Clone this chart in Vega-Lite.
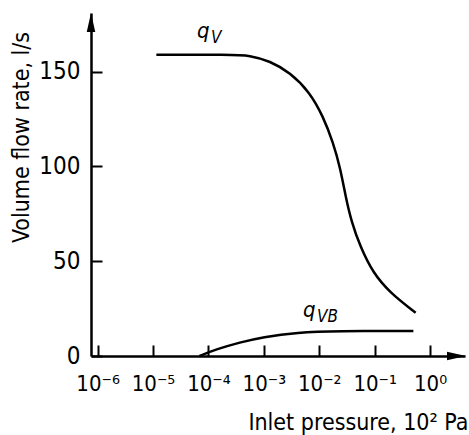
{
  "$schema": "https://vega.github.io/schema/vega-lite/v6.json",
  "width": 374,
  "height": 343,
  "autosize": "none",
  "padding": {"left": 91, "top": 13, "right": 4, "bottom": 79},
  "background": "white",
  "config": {
    "view": {"stroke": null},
    "font": "DejaVu Sans Condensed",
    "axis": {"grid": false, "domainColor": "black", "domainWidth": 2.5, "tickColor": "black", "tickWidth": 2, "labelColor": "black", "titleColor": "black", "labelFont": "DejaVu Sans Condensed", "titleFont": "DejaVu Sans Condensed", "labelFontSize": 24, "titleFontSize": 23, "titleFontWeight": "normal"}
  },
  "datasets": {
    "curves": [
      {"series": "qV", "p": 1.15e-5, "q": 159},
      {"series": "qV", "p": 2.5e-4, "q": 159},
      {"series": "qV", "p": 5.6e-4, "q": 158.7},
      {"series": "qV", "p": 1.29e-3, "q": 155.6},
      {"series": "qV", "p": 2.95e-3, "q": 149.7},
      {"series": "qV", "p": 6.76e-3, "q": 139.2},
      {"series": "qV", "p": 1.17e-2, "q": 126.5},
      {"series": "qV", "p": 1.78e-2, "q": 112.7},
      {"series": "qV", "p": 2.4e-2, "q": 99},
      {"series": "qV", "p": 3.0e-2, "q": 84},
      {"series": "qV", "p": 3.8e-2, "q": 71},
      {"series": "qV", "p": 5.5e-2, "q": 57.7},
      {"series": "qV", "p": 9.3e-2, "q": 43.9},
      {"series": "qV", "p": 0.19, "q": 33.3},
      {"series": "qV", "p": 0.55, "q": 22.8},
      {"series": "qVB", "p": 6.9e-5, "q": 0},
      {"series": "qVB", "p": 1.4e-4, "q": 3.6},
      {"series": "qVB", "p": 3.7e-4, "q": 7.2},
      {"series": "qVB", "p": 9.5e-4, "q": 10.0},
      {"series": "qVB", "p": 3.98e-3, "q": 12.5},
      {"series": "qVB", "p": 2.1e-2, "q": 13.2},
      {"series": "qVB", "p": 0.5, "q": 13.2}
    ],
    "labels": [
      {"p": 6.2e-5, "q": 167.8, "main": "q", "sub": "V"},
      {"p": 5.1e-3, "q": 20.6, "main": "q", "sub": "VB"}
    ],
    "arrows": [
      {"p": 7.6e-7, "q": 176, "dir": "up"},
      {"p": 3.0, "q": 0, "dir": "right"}
    ]
  },
  "layer": [
    {
      "data": {"name": "curves"},
      "mark": {"type": "line", "color": "black", "strokeWidth": 2.5, "interpolate": "basis", "clip": false},
      "encoding": {
        "x": {"field": "p", "type": "quantitative", "scale": {"type": "log", "domain": [7.6e-7, 4.27], "nice": false},
          "axis": {"values": [1e-6, 1e-5, 1e-4, 1e-3, 1e-2, 1e-1, 1], "tickSize": -11, "labelPadding": 28, "labelFontSize": 22,
            "labelExpr": "'10' + ['⁻⁶','⁻⁵','⁻⁴','⁻³','⁻²','⁻¹','⁰'][round(log(datum.value)/LN10)+6]",
            "title": "Inlet pressure, 10² Pa", "titleX": 377, "titleY": 66, "titleAlign": "right", "titleBaseline": "middle", "titleAnchor": null}},
        "y": {"field": "q", "type": "quantitative", "scale": {"domain": [0, 181], "nice": false},
          "axis": {"values": [0, 50, 100, 150], "tickSize": -11, "labelPadding": 22,
            "title": "Volume flow rate, l/s", "titleX": -70, "titleY": 124, "titleAngle": -90, "titleAlign": "center", "titleBaseline": "middle", "titleAnchor": null}},
        "detail": {"field": "series"}
      }
    },
    {
      "data": {"name": "labels"},
      "mark": {"type": "text", "align": "left", "baseline": "alphabetic", "fontStyle": "italic", "fontSize": 22, "font": "DejaVu Sans Condensed", "color": "black"},
      "encoding": {
        "x": {"field": "p", "type": "quantitative"},
        "y": {"field": "q", "type": "quantitative"},
        "text": {"field": "main"}
      }
    },
    {
      "data": {"name": "labels"},
      "mark": {"type": "text", "align": "left", "baseline": "alphabetic", "fontStyle": "italic", "fontSize": 17, "font": "DejaVu Sans Condensed", "color": "black", "dx": 14, "dy": 5},
      "encoding": {
        "x": {"field": "p", "type": "quantitative"},
        "y": {"field": "q", "type": "quantitative"},
        "text": {"field": "sub"}
      }
    },
    {
      "data": {"name": "arrows"},
      "mark": {"type": "point", "filled": true, "color": "black", "opacity": 1, "size": 361, "clip": false},
      "encoding": {
        "x": {"field": "p", "type": "quantitative"},
        "y": {"field": "q", "type": "quantitative"},
        "shape": {"field": "dir", "type": "nominal", "scale": {"domain": ["up", "right"], "range": ["M0,-1L0.45,1L-0.45,1Z", "M1,0L-1,0.45L-1,-0.45Z"]}, "legend": null}
      }
    }
  ]
}
